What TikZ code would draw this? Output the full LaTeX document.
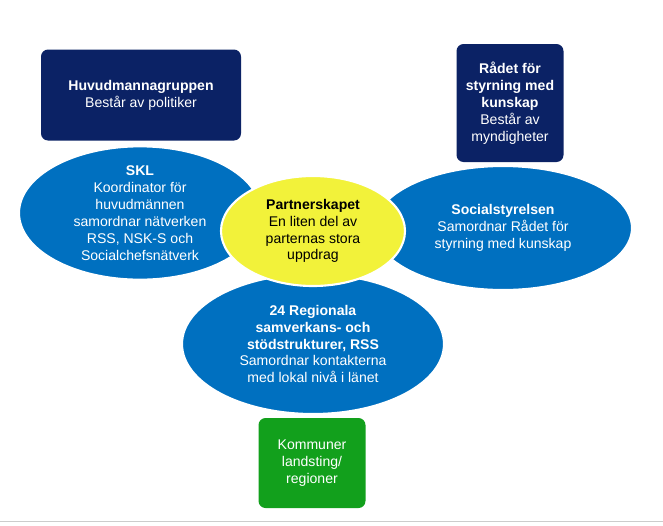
\documentclass[tikz,border=0pt]{standalone}
\usepackage{fontspec}
\setmainfont{Liberation Sans}
\usetikzlibrary{shapes.geometric}
\definecolor{navy}{HTML}{0B2265}
\definecolor{midblue}{HTML}{0070C0}
\definecolor{leafgreen}{HTML}{12A01C}
\definecolor{sunyellow}{HTML}{F2F23A}
\tikzset{
  box/.style={fill=navy,rounded corners=4pt,text=white,align=center,font=\fontsize{8}{9.6}\selectfont},
  oval/.style={ellipse,fill=midblue,draw=white,line width=1.2pt,text=white,align=center,inner sep=0pt,font=\fontsize{8}{9.6}\selectfont},
}
\begin{document}
\begin{tikzpicture}[x=0.02cm,y=-0.02cm]
  \useasboundingbox[fill=white] (0,0) rectangle (663,525);
  \draw[gray!40] (0,521) -- (663,521);
  % top boxes
  \node[box,minimum width=200*0.02cm,minimum height=91*0.02cm] (hmg) at (141,95)
    {\textbf{Huvudmannagruppen}\\Består av politiker};
  \node[box,minimum width=107*0.02cm,minimum height=118*0.02cm] (radet) at (510,103)
    {\textbf{Rådet för}\\\textbf{styrning med}\\\textbf{kunskap}\\Består av\\myndigheter};
  % ellipses
  \node[oval,minimum width=242*0.02cm,minimum height=126*0.02cm] (skl) at (140,213)
    {\textbf{SKL}\\Koordinator för\\huvudmännen\\samordnar nätverken\\RSS, NSK-S och\\Socialchefsnätverk};
  \node[oval,minimum width=258*0.02cm,minimum height=124*0.02cm] (sos) at (503,228)
    {\textbf{Socialstyrelsen}\\Samordnar Rådet för\\styrning med kunskap};
  \node[oval,minimum width=262*0.02cm,minimum height=140*0.02cm] (rss) at (313,344)
    {\textbf{24 Regionala}\\\textbf{samverkans- och}\\\textbf{stödstrukturer, RSS}\\Samordnar kontakterna\\med lokal nivå i länet};
  \node[oval,fill=sunyellow,text=black,minimum width=184*0.02cm,minimum height=110*0.02cm] (part) at (313,231)
    {\textbf{Partnerskapet}\\En liten del av\\parternas stora\\uppdrag};
  % bottom box
  \node[box,fill=leafgreen,minimum width=107*0.02cm,minimum height=90*0.02cm] (kom) at (312,463)
    {Kommuner\\landsting/\\regioner};
\end{tikzpicture}
\end{document}
